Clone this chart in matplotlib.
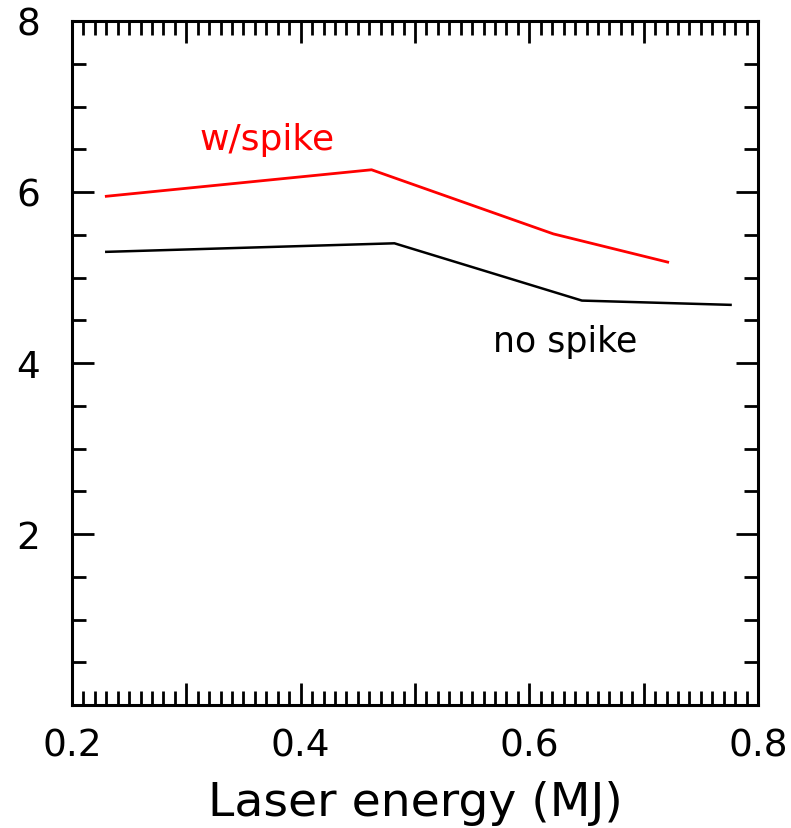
import matplotlib
matplotlib.use("Agg")
import matplotlib.pyplot as plt
from matplotlib.ticker import MultipleLocator, FixedLocator

# Values
energy_spike = [0.23, 0.462, 0.621, 0.721]
gain_spike = [5.95, 6.26, 5.51, 5.18]

energy_nospike = [0.23, 0.482, 0.646, 0.776]
gain_nospike = [5.30, 5.40, 4.73, 4.68]

x_labels = [0.2, 0.4, 0.6, 0.8]
y_labels = [2, 4, 6, 8]

plt.rcParams["font.family"] = ["DejaVu Sans"]

fig = plt.figure(figsize=(7.91, 8.29), dpi=100)
ax = fig.add_axes([72 / 791, 1 - 706 / 829, 686 / 791, 684 / 829])

ax.plot(energy_spike, gain_spike, color="red", linewidth=2.0)
ax.plot(energy_nospike, gain_nospike, color="black", linewidth=1.8)

ax.text(0.371, 6.50, "w/spike", color="red", fontsize=26, ha="center", va="baseline")
ax.text(0.631, 4.14, "no spike", color="black", fontsize=25, ha="center", va="baseline")

ax.set_xlim(0.2, 0.8)
ax.set_ylim(0, 8)

ax.xaxis.set_major_locator(MultipleLocator(0.1))
ax.xaxis.set_minor_locator(MultipleLocator(0.01))
ax.yaxis.set_major_locator(FixedLocator(y_labels))
ax.yaxis.set_minor_locator(MultipleLocator(0.5))

ax.set_xticks([0.2, 0.3, 0.4, 0.5, 0.6, 0.7, 0.8])
ax.set_xticklabels(["0.2", "", "0.4", "", "0.6", "", "0.8"])
ax.set_yticks(y_labels)
ax.set_yticklabels([str(v) for v in y_labels])

ax.tick_params(which="both", direction="in", top=True, right=True, width=2, color="black")
ax.tick_params(which="major", length=16, labelsize=27)
ax.tick_params(axis="x", which="major", pad=16)
ax.tick_params(axis="y", which="major", pad=23)
ax.tick_params(which="minor", length=10)

for sp in ax.spines.values():
    sp.set_linewidth(2.2)

ax.set_xlabel("Laser energy (MJ)", fontsize=34, labelpad=12)

fig.savefig("out.png", dpi=100)
